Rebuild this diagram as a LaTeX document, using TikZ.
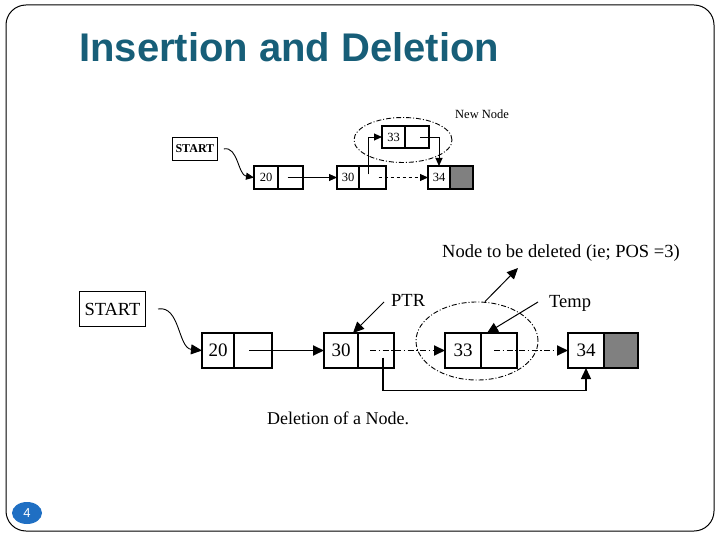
\documentclass[tikz,border=0pt]{standalone}
\usepackage{fontspec}
\setmainfont{Liberation Serif}
\newfontfamily\titlefont{Liberation Sans}
\usetikzlibrary{arrows.meta,shapes.geometric}
\definecolor{titleteal}{RGB}{23,94,120}
\definecolor{numblue}{RGB}{31,111,195}
\definecolor{fieldgray}{RGB}{128,128,128}
\begin{document}
\begin{tikzpicture}[x=1pt,y=-1pt,
  topfield/.style={draw, line width=1.3pt, minimum height=23pt, inner sep=0pt, outer sep=0pt, anchor=north west, font=\fontsize{12.5}{13}\selectfont},
  botfield/.style={draw, line width=2.2pt, minimum height=35pt, inner sep=0pt, outer sep=0pt, anchor=north west, font=\fontsize{19}{20}\selectfont},
  grayfield/.style={fill=fieldgray},
  toparrow/.style={line width=0.9pt, -{Triangle[length=8pt,width=7pt]}},
  botarrow/.style={line width=1.8pt, -{Triangle[length=11pt,width=10pt]}},
  thinarrow/.style={line width=1pt, -{Triangle[length=11pt,width=10pt]}},
  dashdotline/.style={dash pattern=on 6pt off 2.5pt on 1.5pt off 2.5pt},
  ring/.style={draw, ellipse, line width=0.9pt, dash pattern=on 5pt off 2pt on 1pt off 2pt, inner sep=0pt},
  botlabel/.style={inner sep=0pt, anchor=west, font=\fontsize{18.5}{20}\selectfont},
]
\useasboundingbox (0,0) rectangle (720,540);
% slide frame
\draw[line width=1pt, rounded corners=20pt] (6,5) rectangle (714,531);
% title
\node[anchor=base west, inner sep=0pt, text=titleteal, font=\titlefont\bfseries\fontsize{40}{44}\selectfont] (title) at (79,62) {Insertion and Deletion};
% page number
\node[ellipse, fill=numblue, minimum width=30pt, minimum height=22pt, inner sep=0pt, text=white, font=\titlefont\fontsize{13}{14}\selectfont] (pgnum) at (27,513) {4};

% ---------- top diagram: insertion ----------
\node[draw, line width=0.8pt, minimum width=45pt, minimum height=23pt, inner sep=0pt, anchor=north west, font=\bfseries\fontsize{12}{13}\selectfont] (startt) at (172,137) {START};
\node[topfield, minimum width=24pt] (d20t) at (254,166) {20\hspace{3pt}};
\node[topfield, minimum width=25pt] (p20t) at (278,166) {};
\node[topfield, minimum width=22pt] (d30t) at (337,166) {30\hspace{2pt}};
\node[topfield, minimum width=27pt] (p30t) at (359,166) {};
\node[topfield, minimum width=22pt] (d34t) at (428,166) {34\hspace{2pt}};
\node[topfield, grayfield, minimum width=23pt] (g34t) at (450,166) {};
\node[topfield, minimum width=23pt, minimum height=22pt] (d33t) at (382,126) {33\hspace{2pt}};
\node[topfield, minimum width=24pt, minimum height=22pt] (p33t) at (405,126) {};
\node[ring, minimum width=98pt, minimum height=45pt] (newring) at (403,140) {};
\node[inner sep=0pt, anchor=west, font=\fontsize{12.5}{13}\selectfont] (newlab) at (455,114) {New Node};

\draw[toparrow] ([xshift=6pt]startt.east) .. controls (238,146) and (238,175) .. (d20t.west);
\draw[toparrow] ([xshift=-3pt]p20t.center) -- (d30t.west);
\draw[toparrow] ([xshift=-4pt,yshift=3pt]p30t.center) |- (d33t.west);
\draw[toparrow, dashed] ([xshift=6pt]p30t.center) -- (d34t.west);
\draw[toparrow] ([xshift=3pt]p33t.center) -| (d34t.north);

% ---------- bottom diagram: deletion ----------
\node[draw, line width=1pt, minimum width=66pt, minimum height=35pt, inner sep=0pt, anchor=north west, font=\fontsize{18.5}{20}\selectfont] (startb) at (79,291) {START};
\node[botfield, minimum width=32pt] (d20) at (202,333) {20\hspace{2pt}};
\node[botfield, minimum width=38pt] (p20) at (234,333) {};
\node[botfield, minimum width=34pt] (d30) at (324,333) {30\hspace{3pt}};
\node[botfield, minimum width=36pt] (p30) at (358,333) {};
\node[botfield, minimum width=36pt] (d33) at (445,333) {33\hspace{3pt}};
\node[botfield, minimum width=36pt] (p33) at (481,333) {};
\node[botfield, minimum width=36pt] (d34) at (568,333) {34\hspace{3pt}};
\node[botfield, grayfield, minimum width=34pt] (g34) at (604,333) {};
\node[ring, minimum width=122pt, minimum height=78pt] (delring) at (477,341) {};

\node[botlabel] (ptr) at (391,300) {PTR};
\node[botlabel] (temp) at (549,303) {Temp};
\node[botlabel] (dellab) at (442,253) {Node to be deleted (ie; POS =3)};
\node[botlabel, font=\fontsize{18}{20}\selectfont] (caption) at (267,418) {Deletion of a Node.};
\coordinate (deltip) at (518,268);

\draw[line width=0.9pt, -{Triangle[length=11pt,width=10pt]}] ([xshift=12pt]startb.east) .. controls (180,305) and (178,348) .. (d20.west);
\draw[botarrow] ([xshift=-4pt]p20.center) -- (d30.west);
\draw[botarrow, dashdotline] ([xshift=-6pt]p30.center) -- (d33.west);
\draw[botarrow, dashdotline] ([xshift=-5pt]p33.center) -- (d34.west);
\draw[line width=1.3pt, -{Triangle[length=11pt,width=10pt]}] ([xshift=7pt,yshift=-7pt]p30.center) -- ++(0,33) -| (d34.south);
\draw[thinarrow] ([shift={(-7pt,-2pt)}]ptr.west) -- ([xshift=-5pt]d30.north east);
\draw[thinarrow] ([shift={(-11pt,1pt)}]temp.west) -- ([xshift=6pt]p33.north west);
\draw[thinarrow] ([xshift=8pt]delring.north) -- (deltip);
\end{tikzpicture}
\end{document}
